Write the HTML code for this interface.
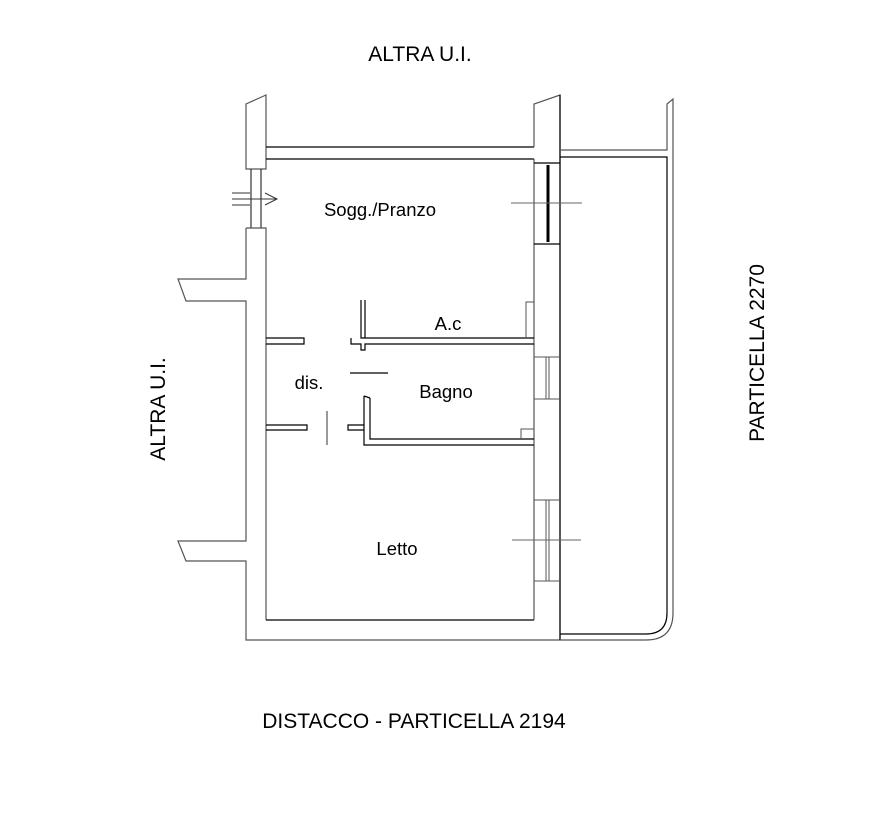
<!DOCTYPE html>
<html><head><style>body{margin:0;background:#fff}svg{display:block}text{font-family:"Liberation Sans",sans-serif;fill:#000}</style></head>
<body>
<svg width="883" height="814" viewBox="0 0 883 814" xmlns="http://www.w3.org/2000/svg">
<g fill="none" stroke="#000" stroke-width="1.2">
<path d="M246,169 V104 L266,95 V169 Z" stroke="#555"/>
<path d="M251,169 V228 M261,169 V228" stroke="#333"/>
<path d="M232,193 H250 M232,199 H276 M232,205 H250 M265,193 L277,199 L265,205" stroke="#333" stroke-width="1"/>
<path d="M246,228 H266 V620 M246,228 V279 H178 L186,301 H246 V541 H178 L186,561 H246 V640 H560" stroke="#555"/>
<path d="M266,620 H534" stroke="#000"/>
<path d="M266,147 H534 M266,159 H534" />
<path d="M534,159 V620" stroke="#555"/>
<path d="M534,147 V104 L560,95 V640" stroke="#555"/>
<path d="M560,95 V640"/>
<path d="M534,163 H560 M534,244 H560"/>
<path d="M548,165 V242" stroke-width="3"/>
<path d="M511,203 H582" stroke="#666" stroke-width="1"/>
<path d="M534,357 H560 M534,399 H560 M546,357 V399 M549,357 V399" stroke="#555" stroke-width="1"/>
<path d="M534,500 H560 M534,581 H560 M546,500 V581 M549,500 V581" stroke="#555" stroke-width="1"/>
<path d="M512,540 H581" stroke="#666" stroke-width="1"/>
<path d="M560,150 H667 V104 L673,99 V613 Q673,640 646,640 H560" stroke="#555"/>
<path d="M560,157 H667 V613 Q667,634 646,634 H560"/>
<path d="M266,338 H304 V344 H266"/>
<path d="M361,300 V338 H534 M365,300 V338 M351,338 V344 H361 V350 H365 V344 H534" />
<path d="M526,338 V302 H534" stroke="#555" stroke-width="1"/>
<path d="M350,373 H388" />
<path d="M364,396 V445 H534 M370,398 V439 H534 M364,396 L370,398" />
<path d="M521,439 V429 H534" stroke="#555" stroke-width="1"/>
<path d="M266,425 H307 V430 H266 M364,425 H348 V430 H364"/>
<path d="M327,411 V445" stroke="#555"/>
</g>
<text x="420" y="61" font-size="21" text-anchor="middle">ALTRA U.I.</text>
<text x="380" y="216" font-size="18.5" text-anchor="middle">Sogg./Pranzo</text>
<text x="448" y="330" font-size="18.5" text-anchor="middle">A.c</text>
<text x="309" y="389" font-size="18.5" text-anchor="middle">dis.</text>
<text x="446" y="398" font-size="18.5" text-anchor="middle">Bagno</text>
<text x="397" y="555" font-size="18.5" text-anchor="middle">Letto</text>
<text x="414" y="728" font-size="21" text-anchor="middle">DISTACCO - PARTICELLA 2194</text>
<text transform="translate(764,353) rotate(-90)" font-size="21" text-anchor="middle">PARTICELLA 2270</text>
<text transform="translate(165,409) rotate(-90)" font-size="21" text-anchor="middle">ALTRA U.I.</text>
</svg>
</body></html>
